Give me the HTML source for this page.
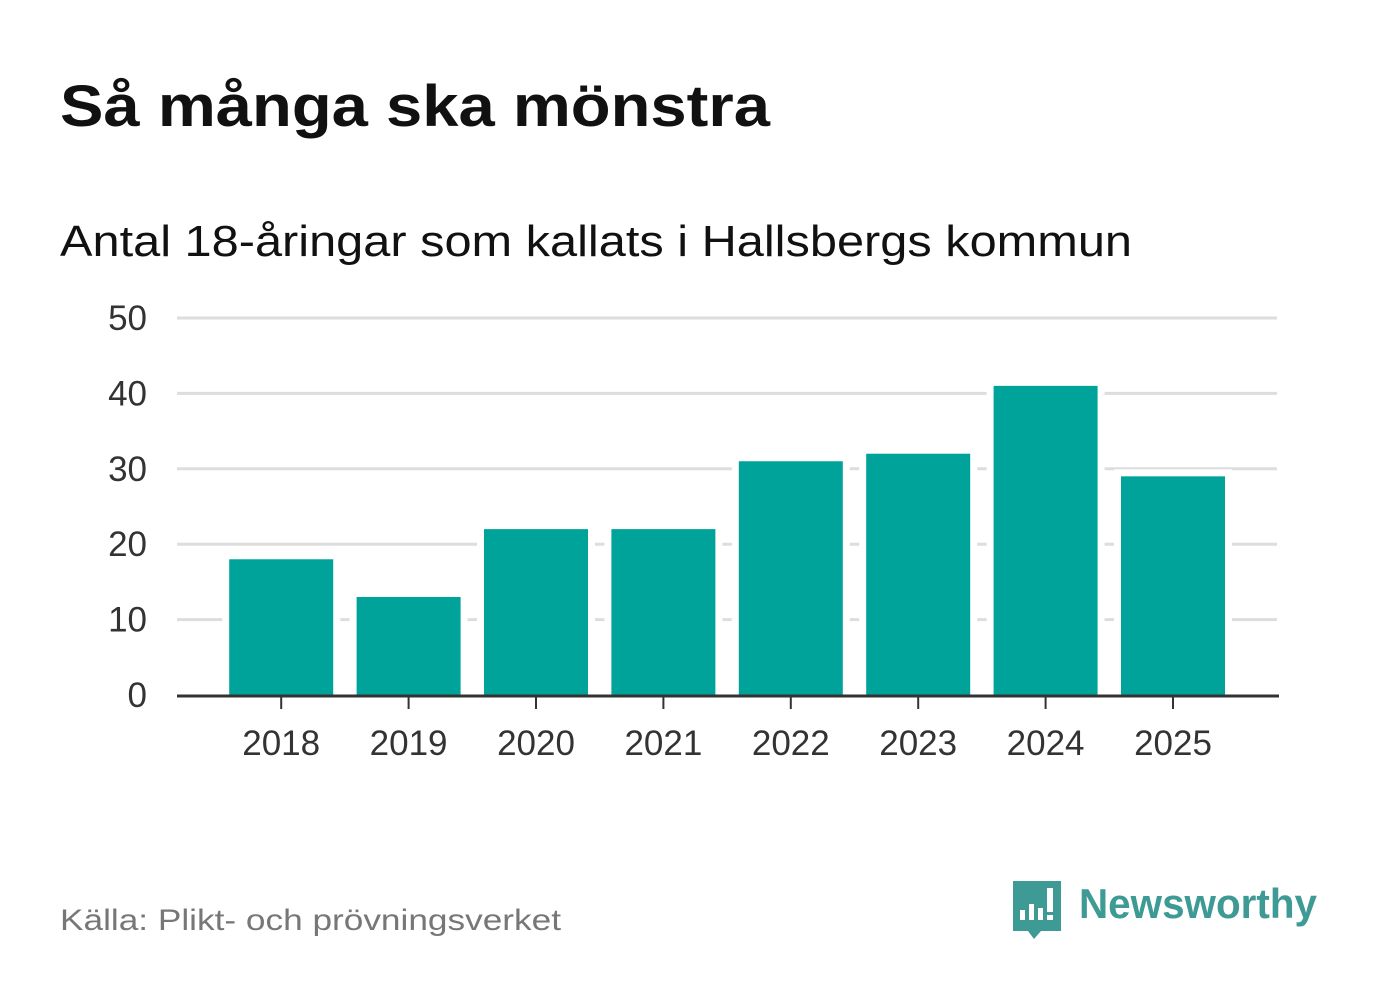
<!DOCTYPE html>
<html><head><meta charset="utf-8"><style>
body{margin:0;background:#fff;width:1382px;height:999px;overflow:hidden}
svg{display:block;font-family:"Liberation Sans","DejaVu Sans",sans-serif}
</style></head><body>
<svg id="chart" width="1382" height="999">
<text x="60" y="126" font-size="58" font-weight="bold" fill="#111" textLength="710" lengthAdjust="spacingAndGlyphs">Så många ska mönstra</text>
<text x="60" y="256" font-size="44" fill="#111" textLength="1072" lengthAdjust="spacingAndGlyphs">Antal 18-åringar som kallats i Hallsbergs kommun</text>
<g id="grid"></g><g id="bars"></g><g id="axis"></g>
<text x="60" y="930" font-size="30" fill="#777" textLength="501" lengthAdjust="spacingAndGlyphs">Källa: Plikt- och prövningsverket</text>
<g>
<path d="M1013 881 h48 v50 h-20 l-7 8 l-6 -8 h-15 z" fill="#3e9a94"/>
<rect x="1020" y="910" width="5" height="10" fill="#fff"/>
<rect x="1029" y="904" width="5" height="16" fill="#fff"/>
<rect x="1038" y="908" width="5" height="12" fill="#fff"/>
<rect x="1047" y="888" width="6" height="24" fill="#fff"/>
<rect x="1047" y="915" width="6" height="5" fill="#fff"/>
<text x="1079" y="918" font-size="42" font-weight="bold" fill="#3e9a94" textLength="238" lengthAdjust="spacingAndGlyphs">Newsworthy</text>
</g>
</svg>
<script>
const categories=["2018","2019","2020","2021","2022","2023","2024","2025"];
const values=[18,13,22,22,31,32,41,29];
const yTicks=[0,10,20,30,40,50];
const NS="http://www.w3.org/2000/svg";
const y0=695,yTop=318,yMax=50,x0=177,x1=1277,bandStart=217.5,bandW=127.4,barW=104;
const y=v=>y0-(v/yMax)*(y0-yTop);
const xc=i=>bandStart+bandW*(i+0.5);
function mk(tag,attrs,parent){const e=document.createElementNS(NS,tag);for(const k in attrs)e.setAttribute(k,attrs[k]);document.getElementById(parent).appendChild(e);return e;}
yTicks.forEach(t=>{
 if(t>0){const l=mk("line",{x1:x0,x2:x1,y1:y(t),y2:y(t),stroke:"#ddd","stroke-width":3},"grid");
 
 }
 const tx=mk("text",{x:147,y:y(t)+12,"font-size":35,fill:"#333","text-anchor":"end"},"grid");
 tx.textContent=t;
 
 
});
values.forEach((v,i)=>{
 const bg=mk("rect",{x:xc(i)-barW/2-7,y:y(v)-7,width:barW+14,height:y0-y(v)+7,fill:"#fff"},"bars");
 
 
 const r=mk("rect",{x:xc(i)-barW/2,y:y(v),width:barW,height:y0-y(v),fill:"#00a39a"},"bars");
 
 
 const tk=mk("line",{x1:xc(i),x2:xc(i),y1:y0,y2:y0+14,stroke:"#333","stroke-width":2},"axis");
 
 
 const lb=mk("text",{x:xc(i),y:755,"font-size":35,fill:"#333","text-anchor":"middle"},"axis");
 lb.textContent=categories[i];
 
 
});
const ax=mk("line",{x1:x0,x2:x1+2,y1:y0+1,y2:y0+1,stroke:"#333","stroke-width":3},"axis");


</script>
</body></html>
